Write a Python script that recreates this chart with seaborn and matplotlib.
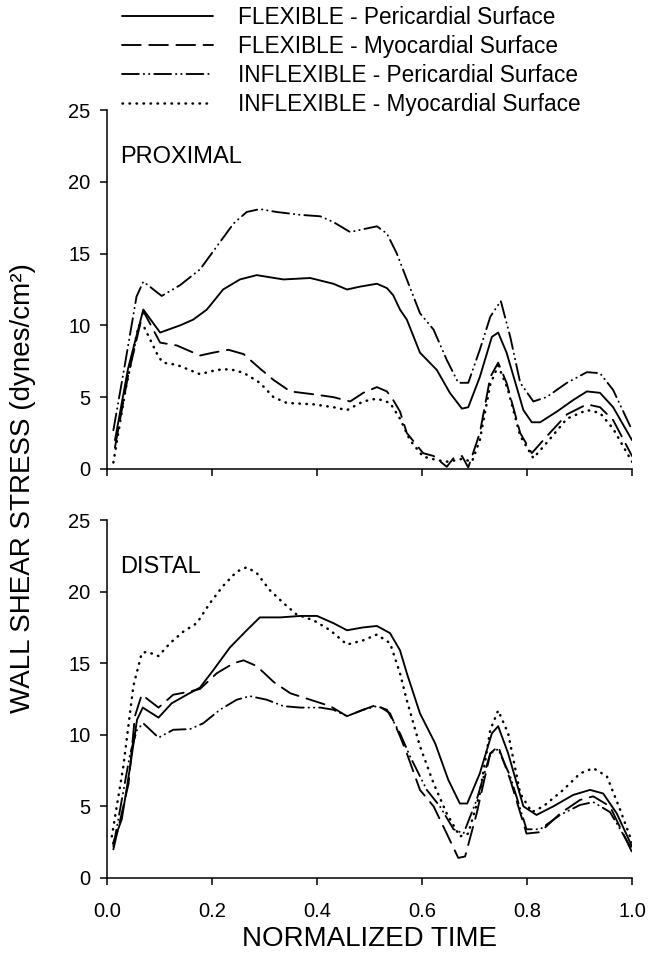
"""
Wall shear stress over the cardiac cycle, proximal vs distal segment.
Two stacked panels, four curves each (flexible / inflexible model,
pericardial / myocardial surface).
"""

import numpy as np
import pandas as pd
import matplotlib
matplotlib.use("Agg")
import matplotlib.pyplot as plt
import seaborn as sns

# ---- data ---------------------------------------------------------------

series_names = [
    "FLEXIBLE - Pericardial Surface",
    "FLEXIBLE - Myocardial Surface",
    "INFLEXIBLE - Pericardial Surface",
    "INFLEXIBLE - Myocardial Surface",
]

# PROXIMAL
prox_flex_peri_x = [0.015, 0.04, 0.069, 0.101, 0.139, 0.164, 0.19, 0.221, 0.253, 0.285, 0.336, 0.387,
                    0.431, 0.457, 0.482, 0.514, 0.533, 0.545, 0.558, 0.571, 0.596, 0.628, 0.653, 0.676,
                    0.688, 0.71, 0.733, 0.745, 0.761, 0.793, 0.809, 0.825, 0.857, 0.888, 0.914, 0.939,
                    0.964, 1.0]
prox_flex_peri_y = [2.0, 7.0, 11.1, 9.5, 10.0, 10.4, 11.1, 12.5, 13.2, 13.5, 13.2, 13.3,
                    12.9, 12.5, 12.7, 12.9, 12.6, 12.1, 11.1, 10.4, 8.1, 6.9, 5.3, 4.2,
                    4.3, 6.4, 9.2, 9.5, 8.1, 4.1, 3.25, 3.25, 4.0, 4.8, 5.4, 5.3,
                    4.3, 2.0]

prox_flex_myo_x = [0.015, 0.04, 0.069, 0.101, 0.133, 0.177, 0.202, 0.231, 0.26, 0.291, 0.317, 0.349,
                   0.393, 0.431, 0.463, 0.488, 0.514, 0.533, 0.545, 0.558, 0.571, 0.602, 0.622, 0.647,
                   0.66, 0.676, 0.688, 0.71, 0.73, 0.745, 0.761, 0.787, 0.809, 0.837, 0.876, 0.914,
                   0.939, 0.964, 1.0]
prox_flex_myo_y = [1.5, 6.5, 11.0, 8.8, 8.6, 7.9, 8.1, 8.3, 8.0, 7.0, 6.2, 5.4,
                   5.2, 5.0, 4.7, 5.3, 5.7, 5.4, 4.8, 4.0, 2.5, 1.1, 0.9, 0.15,
                   0.75, 0.9, 0.1, 2.5, 6.4, 7.4, 6.0, 2.5, 1.1, 2.25, 3.8, 4.5,
                   4.3, 3.4, 0.9]

prox_infl_peri_x = [0.012, 0.035, 0.056, 0.069, 0.104, 0.139, 0.177, 0.209, 0.241, 0.266, 0.291, 0.323,
                    0.368, 0.406, 0.431, 0.463, 0.488, 0.514, 0.533, 0.552, 0.571, 0.596, 0.622, 0.647,
                    0.669, 0.688, 0.71, 0.73, 0.75, 0.768, 0.787, 0.812, 0.837, 0.876, 0.914, 0.939,
                    0.964, 1.0]
prox_infl_peri_y = [2.7, 7.5, 12.0, 13.05, 12.05, 12.8, 13.9, 15.5, 17.1, 17.9, 18.1, 17.9,
                    17.7, 17.6, 17.2, 16.5, 16.7, 16.9, 16.4, 15.0, 13.2, 10.85, 9.7, 7.6,
                    6.0, 6.0, 8.3, 10.6, 11.7, 9.2, 6.0, 4.7, 5.0, 6.0, 6.74, 6.67,
                    5.5, 2.7]

prox_infl_myo_x = [0.012, 0.035, 0.06, 0.069, 0.098, 0.107, 0.133, 0.177, 0.209, 0.234, 0.26, 0.291,
                   0.317, 0.342, 0.393, 0.431, 0.457, 0.488, 0.514, 0.539, 0.558, 0.577, 0.602, 0.63,
                   0.65, 0.676, 0.695, 0.71, 0.73, 0.745, 0.763, 0.787, 0.812, 0.837, 0.876, 0.914,
                   0.939, 0.964, 1.0]
prox_infl_myo_y = [0.45, 5.5, 10.0, 10.0, 7.8, 7.4, 7.25, 6.6, 6.9, 6.95, 6.7, 6.0,
                   5.0, 4.6, 4.5, 4.3, 4.1, 4.7, 4.9, 4.6, 3.5, 2.0, 0.86, 0.6,
                   0.5, 0.7, 0.5, 2.0, 5.9, 7.2, 5.6, 2.3, 0.75, 1.8, 3.5, 4.1,
                   3.9, 2.8, 0.5]

# DISTAL
dist_flex_peri_x = [0.011, 0.028, 0.044, 0.057, 0.068, 0.098, 0.123, 0.152, 0.177, 0.202, 0.234, 0.266,
                    0.291, 0.33, 0.368, 0.4, 0.431, 0.457, 0.488, 0.514, 0.539, 0.558, 0.571, 0.596,
                    0.625, 0.65, 0.672, 0.686, 0.71, 0.733, 0.745, 0.764, 0.793, 0.818, 0.85, 0.888,
                    0.92, 0.945, 0.971, 1.0]
dist_flex_peri_y = [2.4, 4.1, 7.8, 11.05, 11.9, 11.2, 12.2, 12.8, 13.3, 14.5, 16.1, 17.3,
                    18.2, 18.2, 18.3, 18.3, 17.8, 17.3, 17.5, 17.6, 17.1, 15.9, 14.3, 11.5,
                    9.4, 6.85, 5.2, 5.2, 7.3, 10.1, 10.6, 8.7, 5.0, 4.4, 5.0, 5.8,
                    6.15, 5.9, 4.5, 2.2]

dist_flex_myo_x = [0.012, 0.041, 0.053, 0.066, 0.098, 0.126, 0.155, 0.177, 0.209, 0.241, 0.26, 0.285,
                   0.317, 0.349, 0.387, 0.425, 0.457, 0.488, 0.514, 0.539, 0.558, 0.571, 0.596, 0.622,
                   0.647, 0.669, 0.682, 0.704, 0.73, 0.745, 0.768, 0.799, 0.825, 0.863, 0.901, 0.926,
                   0.958, 1.0]
dist_flex_myo_y = [2.0, 6.6, 11.3, 12.8, 11.9, 12.8, 13.0, 13.2, 14.3, 15.0, 15.2, 14.8,
                   13.7, 12.9, 12.45, 12.0, 11.3, 11.75, 12.1, 11.5, 9.9, 8.7, 6.15, 5.0,
                   3.1, 1.4, 1.5, 4.5, 8.7, 9.2, 6.85, 3.1, 3.2, 4.5, 5.45, 5.7,
                   5.0, 1.8]

dist_infl_peri_x = [0.012, 0.044, 0.057, 0.069, 0.098, 0.126, 0.158, 0.183, 0.215, 0.247, 0.272, 0.304,
                    0.336, 0.368, 0.406, 0.431, 0.457, 0.488, 0.514, 0.533, 0.558, 0.577, 0.609, 0.634,
                    0.66, 0.679, 0.704, 0.73, 0.745, 0.768, 0.799, 0.825, 0.863, 0.901, 0.926, 0.958,
                    1.0]
dist_infl_peri_y = [2.2, 8.7, 10.35, 10.8, 9.8, 10.35, 10.4, 10.8, 11.75, 12.45, 12.7, 12.45,
                    12.0, 11.9, 11.9, 11.75, 11.3, 11.75, 12.0, 11.75, 10.1, 8.5, 6.15, 5.0,
                    3.4, 3.1, 5.45, 8.7, 9.0, 7.1, 3.4, 3.4, 4.4, 5.1, 5.3, 4.6,
                    2.0]

dist_infl_myo_x = [0.009, 0.031, 0.05, 0.066, 0.076, 0.098, 0.12, 0.145, 0.171, 0.196, 0.221, 0.247,
                   0.266, 0.285, 0.31, 0.336, 0.361, 0.393, 0.425, 0.457, 0.488, 0.514, 0.539, 0.558,
                   0.571, 0.596, 0.622, 0.647, 0.672, 0.688, 0.71, 0.73, 0.745, 0.764, 0.787, 0.809,
                   0.831, 0.869, 0.901, 0.926, 0.952, 0.977, 1.0]
dist_infl_myo_y = [2.9, 7.8, 13.4, 15.7, 15.8, 15.5, 16.4, 17.2, 17.8, 19.2, 20.4, 21.4,
                   21.7, 21.3, 20.1, 19.2, 18.4, 18.0, 17.3, 16.3, 16.6, 17.0, 16.4, 14.3,
                   12.4, 9.2, 6.6, 4.5, 2.9, 3.1, 5.9, 10.35, 11.7, 10.1, 5.9, 4.6,
                   5.0, 6.15, 7.3, 7.67, 7.1, 4.8, 2.5]

x_ticks = [0.0, 0.2, 0.4, 0.6, 0.8, 1.0]
y_ticks = [0, 5, 10, 15, 20, 25]


def to_long(panel):
    """Stack the four curves of one panel into a long-form frame."""
    rows = []
    for name, (xs, ys) in zip(series_names, panel):
        for x, y in zip(xs, ys):
            rows.append({"time": x, "wss": y, "series": name})
    return pd.DataFrame(rows)


df_prox = to_long([
    (prox_flex_peri_x, prox_flex_peri_y),
    (prox_flex_myo_x, prox_flex_myo_y),
    (prox_infl_peri_x, prox_infl_peri_y),
    (prox_infl_myo_x, prox_infl_myo_y),
])
df_dist = to_long([
    (dist_flex_peri_x, dist_flex_peri_y),
    (dist_flex_myo_x, dist_flex_myo_y),
    (dist_infl_peri_x, dist_infl_peri_y),
    (dist_infl_myo_x, dist_infl_myo_y),
])

# ---- style ---------------------------------------------------------------

sns.set_style("ticks")
plt.rcParams["font.family"] = ["Liberation Sans", "DejaVu Sans"]
plt.rcParams.update({
    "axes.linewidth": 1.1,
    "axes.edgecolor": "black",
    "text.color": "black",
    "axes.labelcolor": "black",
    "xtick.color": "black",
    "ytick.color": "black",
    "lines.dash_capstyle": "round",
    "lines.solid_joinstyle": "round",
})

LW = 1.35
dash_map = {
    series_names[0]: "",
    series_names[1]: (10, 4.5),
    series_names[2]: (9, 2.6, 0.2, 2.6, 0.2, 2.6),
    series_names[3]: (0.2, 2.6),
}
width_map = {
    series_names[0]: LW,
    series_names[1]: LW,
    series_names[2]: LW,
    series_names[3]: 1.8,
}

fig = plt.figure(figsize=(6.57, 9.57), dpi=100)
ax_top = fig.add_axes([0.163, 0.510, 0.799, 0.375])
ax_bot = fig.add_axes([0.163, 0.0826, 0.799, 0.374])

for ax, df, title in [(ax_top, df_prox, "PROXIMAL"), (ax_bot, df_dist, "DISTAL")]:
    sns.lineplot(
        data=df, x="time", y="wss",
        style="series", style_order=series_names, dashes=dash_map,
        size="series", size_order=series_names, sizes=width_map,
        color="black", estimator=None, sort=True, ax=ax,
    )
    ax.set_xlim(0, 1)
    ax.set_ylim(0, 25)
    ax.set_xticks(x_ticks)
    ax.set_yticks(y_ticks)
    ax.set_xlabel("")
    ax.set_ylabel("")
    ax.tick_params(direction="out", length=5, width=1.1, labelsize=14.5, pad=7)
    ax.text(0.025, 21.7, title, fontsize=17, va="center", ha="left")
    sns.despine(ax=ax)

ax_top.tick_params(labelbottom=False)
ax_bot.tick_params(axis="x", pad=12)
ax_bot.set_xticklabels([f"{t:.1f}" for t in x_ticks])
ax_bot.set_xlabel("NORMALIZED TIME", fontsize=20, labelpad=4)

fig.text(0.035, 0.49, "WALL SHEAR STRESS (dynes/cm²)", rotation=90,
         fontsize=20, va="center", ha="center")

# move the seaborn legend up to the top of the figure
leg = ax_top.get_legend()
handles = leg.legend_handles
labels = [t.get_text() for t in leg.get_texts()]
for h in handles:
    h.set_color("black")
leg.remove()
ax_bot.get_legend().remove()

fig.legend(handles, labels, loc="center left", bbox_to_anchor=(0.186, 0.9363),
           frameon=False, fontsize=16.3, handlelength=4.0, handletextpad=1.12,
           labelspacing=0.27, borderpad=0, borderaxespad=0)

fig.savefig("out.png", dpi=100)
